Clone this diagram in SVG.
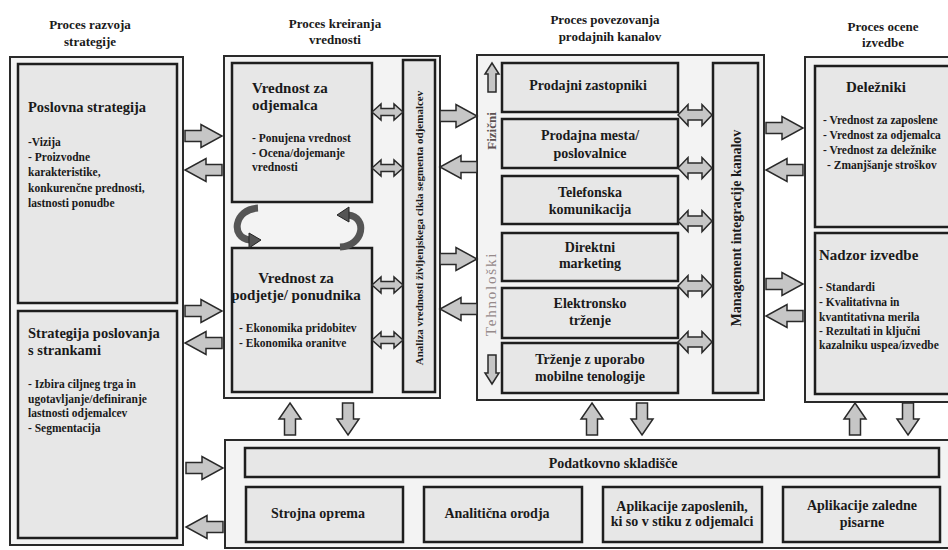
<svg xmlns="http://www.w3.org/2000/svg" width="948" height="550" viewBox="0 0 948 550" font-family="'Liberation Serif', 'Times New Roman', 'DejaVu Serif', serif">
  <style>
    .bg { fill: #ffffff; }
    .outer { fill: #f3f3f3; stroke: #2a2a2a; stroke-width: 2; }
    .box { fill: #e7e7e7; stroke: #1e1e1e; stroke-width: 2.5; }
    .arrow { fill: #c6c6c6; stroke: #2a2a2a; stroke-width: 1.5; stroke-linejoin: miter; }
    .curl { fill: none; stroke: #555555; stroke-width: 7; }
    .curl-head { fill: #555555; stroke: #222222; stroke-width: 1; }
    text { font-family: 'Liberation Serif', 'Times New Roman', 'DejaVu Serif', serif; font-weight: bold; fill: #1a1a1a; }
    .title { font-size: 13px; text-anchor: middle; }
    .head { font-size: 14.5px; }
    .head15 { font-size: 15px; }
    .item { font-size: 11.5px; }
    .ch { font-size: 14px; text-anchor: middle; }
    .vert { font-size: 11px; text-anchor: middle; }
    .vert-big { font-size: 14px; text-anchor: middle; }
    .side { font-size: 13px; text-anchor: middle; }
    .side-light { font-size: 15px; font-weight: normal; letter-spacing: 1.8px; text-anchor: middle; }
    .c { text-anchor: middle; }
  </style>
  <defs>
    <!-- block arrows, drawn from their origin -->
    <path id="arrR" d="M0,-5.5 H16 V-11.5 L37,0 L16,11.5 V5.5 H0 Z"/>
    <path id="arrL" d="M37,-5.5 H21 V-11.5 L0,0 L21,11.5 V5.5 H37 Z"/>
    <path id="dblS" d="M0,0 L9,-8 V-3.5 H22 V-8 L31,0 L22,8 V3.5 H9 V8 Z"/>
    <path id="dblM" d="M0,0 L10,-10.5 V-5 H24 V-10.5 L34,0 L24,10.5 V5 H10 V10.5 Z"/>
    <path id="arrUp" d="M0,0 L11,16 H5.5 V32 H-5.5 V16 H-11 Z"/>
    <path id="arrDown" d="M0,32 L11,16 H5.5 V0 H-5.5 V16 H-11 Z"/>
    <path id="arrUpS" d="M0,0 L7,11 H4 V29 H-4 V11 H-7 Z"/>
    <path id="arrDownS" d="M0,29 L7,18 H4 V0 H-4 V18 H-7 Z"/>
    <!-- curved cycle arrow, centred on its origin -->
    <g id="curlShape">
      <path class="curl" d="M11,-18 C-13,-17 -17,12 3,14"/>
      <polygon class="curl-head" points="2,7 14,14 2,22"/>
    </g>
  </defs>

  <rect class="bg" x="0" y="0" width="948" height="550"/>

  <!-- column headings -->
  <g id="titles">
    <text class="title" x="90" y="29">Proces razvoja</text>
    <text class="title" x="90" y="46">strategije</text>
    <text class="title" x="335" y="28">Proces kreiranja</text>
    <text class="title" x="335" y="44">vrednosti</text>
    <text class="title" x="605" y="24">Proces povezovanja</text>
    <text class="title" x="610" y="41">prodajnih kanalov</text>
    <text class="title" x="883" y="31">Proces ocene</text>
    <text class="title" x="883" y="47">izvedbe</text>
  </g>

  <!-- strategy development -->
  <g id="strategy">
    <rect class="outer" x="10" y="57" width="173" height="488"/>
    <g id="poslovna-strategija">
      <rect class="box" x="18" y="64" width="159" height="239"/>
      <text class="head" x="28" y="112">Poslovna strategija</text>
      <text class="item" x="28" y="146">-Vizija</text>
      <text class="item" x="28" y="161">- Proizvodne</text>
      <text class="item" x="28" y="176">karakteristike,</text>
      <text class="item" x="28" y="192">konkurenčne prednosti,</text>
      <text class="item" x="28" y="207">lastnosti ponudbe</text>
    </g>
    <g id="strategija-poslovanja">
      <rect class="box" x="18" y="311" width="159" height="227"/>
      <text class="head" x="28" y="338">Strategija poslovanja</text>
      <text class="head" x="28" y="355">s strankami</text>
      <text class="item" x="28" y="388">- Izbira ciljneg trga in</text>
      <text class="item" x="28" y="403">ugotavljanje/definiranje</text>
      <text class="item" x="28" y="417">lastnosti odjemalcev</text>
      <text class="item" x="28" y="432">- Segmentacija</text>
    </g>
  </g>

  <!-- value creation -->
  <g id="value-creation">
    <rect class="outer" x="224" y="56" width="216" height="342"/>
    <g id="vrednost-odjemalec">
      <rect class="box" x="232" y="63" width="140" height="139"/>
      <text class="head15" x="252" y="93">Vrednost za</text>
      <text class="head15" x="252" y="110">odjemalca</text>
      <text class="item" x="252" y="142">- Ponujena vrednost</text>
      <text class="item" x="252" y="157">- Ocena/dojemanje</text>
      <text class="item" x="252" y="171">vrednosti</text>
    </g>
    <g id="vrednost-podjetje">
      <rect class="box" x="232" y="248" width="140" height="144"/>
      <text class="head15 c" x="296" y="283">Vrednost za</text>
      <text class="head15 c" x="296" y="300">podjetje/ ponudnika</text>
      <text class="item" x="239" y="332">- Ekonomika pridobitev</text>
      <text class="item" x="239" y="347">- Ekonomika oranitve</text>
    </g>
    <g id="analiza">
      <rect class="box" x="403" y="60" width="32" height="332"/>
      <text class="vert" transform="translate(423,228) rotate(-90)">Analiza vrednosti življenjskega cikla segmenta odjemalcev</text>
    </g>
    <g id="curls">
      <use href="#curlShape" transform="translate(247,226)"/>
      <use href="#curlShape" transform="translate(351,229) rotate(180)"/>
    </g>
  </g>

  <!-- sales channel integration -->
  <g id="channels">
    <rect class="outer" x="477" y="55" width="287" height="345"/>
    <g id="ch-zastopniki">
      <rect class="box" x="502" y="63" width="176" height="49"/>
      <text class="ch" x="588" y="90">Prodajni zastopniki</text>
    </g>
    <g id="ch-mesta">
      <rect class="box" x="502" y="119" width="176" height="49"/>
      <text class="ch" x="590" y="140">Prodajna mesta/</text>
      <text class="ch" x="590" y="158">poslovalnice</text>
    </g>
    <g id="ch-telefon">
      <rect class="box" x="502" y="176" width="176" height="48"/>
      <text class="ch" x="590" y="197">Telefonska</text>
      <text class="ch" x="590" y="214">komunikacija</text>
    </g>
    <g id="ch-direktni">
      <rect class="box" x="502" y="233" width="176" height="48"/>
      <text class="ch" x="590" y="252">Direktni</text>
      <text class="ch" x="590" y="268">marketing</text>
    </g>
    <g id="ch-elektronsko">
      <rect class="box" x="502" y="288" width="176" height="50"/>
      <text class="ch" x="590" y="308">Elektronsko</text>
      <text class="ch" x="590" y="325">trženje</text>
    </g>
    <g id="ch-mobilno">
      <rect class="box" x="502" y="343" width="176" height="50"/>
      <text class="ch" x="590" y="364">Trženje z uporabo</text>
      <text class="ch" x="590" y="381">mobilne tenologije</text>
    </g>
    <g id="management">
      <rect class="box" x="713" y="63" width="45" height="330"/>
      <text class="vert-big" transform="translate(741,228) rotate(-90)">Management integracije kanalov</text>
    </g>
    <g id="axis">
      <use href="#arrUpS" class="arrow" x="492" y="63"/>
      <text class="side" transform="translate(496,131) rotate(-90)" style="fill:#5e5252">Fizični</text>
      <text class="side-light" transform="translate(496,294) rotate(-90)" style="fill:#968a8a">Tehnološki</text>
      <use href="#arrDownS" class="arrow" x="492" y="355"/>
    </g>
  </g>

  <!-- performance assessment -->
  <g id="performance">
    <rect class="outer" x="805" y="57" width="160" height="345"/>
    <g id="delezniki">
      <rect class="box" x="815" y="66" width="150" height="161"/>
      <text class="head15" x="846" y="92">Deležniki</text>
      <text class="item" x="823" y="124">- Vrednost za zaposlene</text>
      <text class="item" x="823" y="139">- Vrednost za odjemalca</text>
      <text class="item" x="823" y="154">- Vrednost za deležnike</text>
      <text class="item" x="827" y="169">- Zmanjšanje stroškov</text>
    </g>
    <g id="nadzor">
      <rect class="box" x="815" y="233" width="150" height="161"/>
      <text class="head15" x="819" y="260">Nadzor izvedbe</text>
      <text class="item" x="819" y="291">- Standardi</text>
      <text class="item" x="819" y="306">- Kvalitativna in</text>
      <text class="item" x="819" y="321">kvantitativna merila</text>
      <text class="item" x="819" y="335">- Rezultati in ključni</text>
      <text class="item" x="819" y="349">kazalniku uspea/izvedbe</text>
    </g>
  </g>

  <!-- data infrastructure -->
  <g id="infrastructure">
    <rect class="outer" x="225" y="440" width="740" height="108"/>
    <g id="skladisce">
      <rect class="box" x="245" y="448" width="694" height="29"/>
      <text class="ch" x="613" y="468">Podatkovno skladišče</text>
    </g>
    <g id="strojna">
      <rect class="box" x="246" y="487" width="157" height="55"/>
      <text class="ch" x="318" y="518">Strojna oprema</text>
    </g>
    <g id="analiticna">
      <rect class="box" x="424" y="487" width="158" height="55"/>
      <text class="ch" x="497" y="518">Analitična orodja</text>
    </g>
    <g id="aplikacije-zaposlenih">
      <rect class="box" x="603" y="487" width="159" height="55"/>
      <text class="ch" x="682" y="511">Aplikacije zaposlenih,</text>
      <text class="ch" x="682" y="526">ki so v stiku z odjemalci</text>
    </g>
    <g id="aplikacije-zaledne">
      <rect class="box" x="783" y="487" width="157" height="55"/>
      <text class="ch" x="862" y="510">Aplikacije zaledne</text>
      <text class="ch" x="862" y="527">pisarne</text>
    </g>
  </g>

  <!-- connectors -->
  <g id="connectors" class="arrow">
    <use href="#arrR" x="185" y="136"/>
    <use href="#arrL" x="185" y="170"/>
    <use href="#arrR" x="185" y="311"/>
    <use href="#arrL" x="185" y="343"/>
    <use href="#arrR" x="186" y="468"/>
    <use href="#arrL" x="186" y="527"/>

    <use href="#dblS" x="372" y="112"/>
    <use href="#dblS" x="372" y="168"/>
    <use href="#dblS" x="372" y="285"/>
    <use href="#dblS" x="372" y="340"/>

    <use href="#arrR" x="440" y="116"/>
    <use href="#arrL" x="440" y="167"/>
    <use href="#arrR" x="440" y="259"/>
    <use href="#arrL" x="440" y="309"/>

    <use href="#dblM" x="678" y="115"/>
    <use href="#dblM" x="678" y="168"/>
    <use href="#dblM" x="678" y="221"/>
    <use href="#dblM" x="678" y="286"/>
    <use href="#dblM" x="678" y="342"/>

    <use href="#arrR" x="766" y="128"/>
    <use href="#arrL" x="766" y="170"/>
    <use href="#arrR" x="766" y="284"/>
    <use href="#arrL" x="766" y="316"/>

    <use href="#arrUp" x="290" y="403"/>
    <use href="#arrDown" x="348" y="403"/>
    <use href="#arrUp" x="592" y="403"/>
    <use href="#arrDown" x="642" y="403"/>
    <use href="#arrUp" x="855" y="403"/>
    <use href="#arrDown" x="908" y="403"/>
  </g>
</svg>
